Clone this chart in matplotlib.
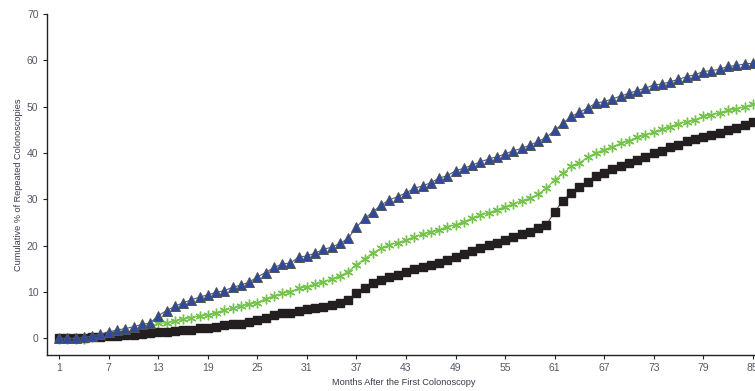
import numpy as np
import matplotlib
matplotlib.use("Agg")
import matplotlib.pyplot as plt
from matplotlib import font_manager

installed = {f.name for f in font_manager.fontManager.ttflist}
if 'Liberation Sans Narrow' in installed:
    plt.rcParams['font.family'] = ['Liberation Sans Narrow', 'DejaVu Sans']
    label_size = 8
else:
    plt.rcParams['font.family'] = ['Liberation Sans', 'DejaVu Sans']
    label_size = 6.6

months = list(range(1, 86))
tick_months = list(range(1, 86, 6))
y_ticks = [0, 10, 20, 30, 40, 50, 60, 70]

# triangles (top series)
blue = [0.0, 0.0, 0.0, 0.2, 0.5, 0.9, 1.4, 1.8, 2.1, 2.5,
        3.0, 3.3, 4.9, 6.0, 6.9, 7.7, 8.3, 8.9, 9.4, 9.9,
        10.3, 11.0, 11.5, 12.1, 13.3, 14.2, 15.3, 16.0, 16.3, 17.5,
        17.8, 18.4, 19.2, 19.7, 20.5, 21.6, 24.0, 25.9, 27.3, 28.8,
        29.9, 30.6, 31.4, 32.4, 32.9, 33.6, 34.6, 35.1, 36.2, 36.7,
        37.4, 38.1, 38.7, 39.2, 39.8, 40.5, 41.0, 41.7, 42.5, 43.4,
        44.9, 46.4, 47.9, 48.8, 49.7, 50.8, 51.1, 51.7, 52.3, 52.9,
        53.5, 54.0, 54.7, 54.9, 55.4, 55.9, 56.5, 56.9, 57.6, 57.8,
        58.1, 58.7, 58.9, 59.2, 59.4]

# asterisks (middle series)
green = [-0.2, -0.2, -0.2, -0.1, 0.3, 0.6, 0.8, 1.0, 1.2, 1.5,
         1.9, 2.5, 3.3, 3.3, 3.8, 4.1, 4.5, 4.8, 5.1, 5.5,
         6.1, 6.5, 7.0, 7.4, 7.7, 8.6, 9.1, 9.7, 10.1, 10.8,
         11.1, 11.7, 12.2, 12.8, 13.5, 14.4, 15.9, 17.2, 18.5, 19.4,
         20.2, 20.6, 21.2, 21.9, 22.5, 23.0, 23.4, 24.1, 24.5, 25.2,
         25.9, 26.6, 27.1, 27.7, 28.4, 29.0, 29.7, 30.2, 31.1, 32.4,
         34.2, 35.6, 37.1, 37.9, 39.1, 40.0, 40.7, 41.3, 42.1, 42.7,
         43.4, 43.9, 44.5, 45.1, 45.7, 46.3, 46.8, 47.1, 47.9, 48.2,
         48.7, 49.2, 49.5, 50.0, 50.5]

# squares (bottom series)
black = [0.0, 0.0, 0.0, 0.0, 0.2, 0.3, 0.4, 0.6, 0.7, 0.8,
         0.9, 1.1, 1.3, 1.4, 1.6, 1.9, 1.9, 2.2, 2.2, 2.5,
         2.9, 3.1, 3.2, 3.6, 4.0, 4.3, 5.0, 5.4, 5.5, 5.8,
         6.3, 6.5, 6.8, 7.2, 7.6, 8.3, 9.8, 10.8, 11.9, 12.6,
         13.2, 13.7, 14.4, 14.9, 15.3, 15.8, 16.3, 16.9, 17.6, 18.2,
         18.9, 19.6, 20.2, 20.6, 21.2, 21.9, 22.5, 23.0, 23.9, 24.5,
         27.3, 29.7, 31.4, 32.7, 33.8, 35.1, 35.6, 36.5, 37.1, 37.8,
         38.4, 39.1, 40.0, 40.5, 41.3, 41.7, 42.5, 43.0, 43.4, 43.9,
         44.4, 45.0, 45.4, 46.1, 46.6]

fig = plt.figure(figsize=(7.55, 3.91), dpi=100)
ax = fig.add_axes([0.062, 0.092, 0.946, 0.872])

ax.plot(months, green, color='#74c44c', lw=0.8, marker=(6, 2, 0),
        markersize=7, markeredgewidth=1.0, markeredgecolor='#74c44c', zorder=2)
ax.plot(months, black, color='#555555', lw=0.8, marker='s',
        markersize=5.6, markerfacecolor='#231f20', markeredgecolor='#231f20', zorder=3)
ax.plot(months, blue, color='#4a5a9a', lw=0.8, marker='^',
        markersize=7, markerfacecolor='#2e4a9e', markeredgecolor='#555555',
        markeredgewidth=0.7, zorder=4)

ax.set_xlim(-0.5, 86)
ax.set_ylim(-3.6, 70)
ax.set_xticks(tick_months)
ax.set_yticks(y_ticks)

for s in ['top', 'right']:
    ax.spines[s].set_visible(False)
for s in ['left', 'bottom']:
    ax.spines[s].set_linewidth(1.0)
    ax.spines[s].set_color('#222222')

ax.tick_params(direction='out', length=3, width=0.8, labelsize=7.5,
               labelcolor='#55586a', color='#222222', pad=3)

ax.set_xlabel('Months After the First Colonoscopy', fontsize=label_size,
              color='#3a3a4a', labelpad=3)
ax.set_ylabel('Cumulative % of Repeated Colonoscopies', fontsize=label_size,
              color='#3a3a4a', labelpad=3)

fig.savefig('out.png', dpi=100)
